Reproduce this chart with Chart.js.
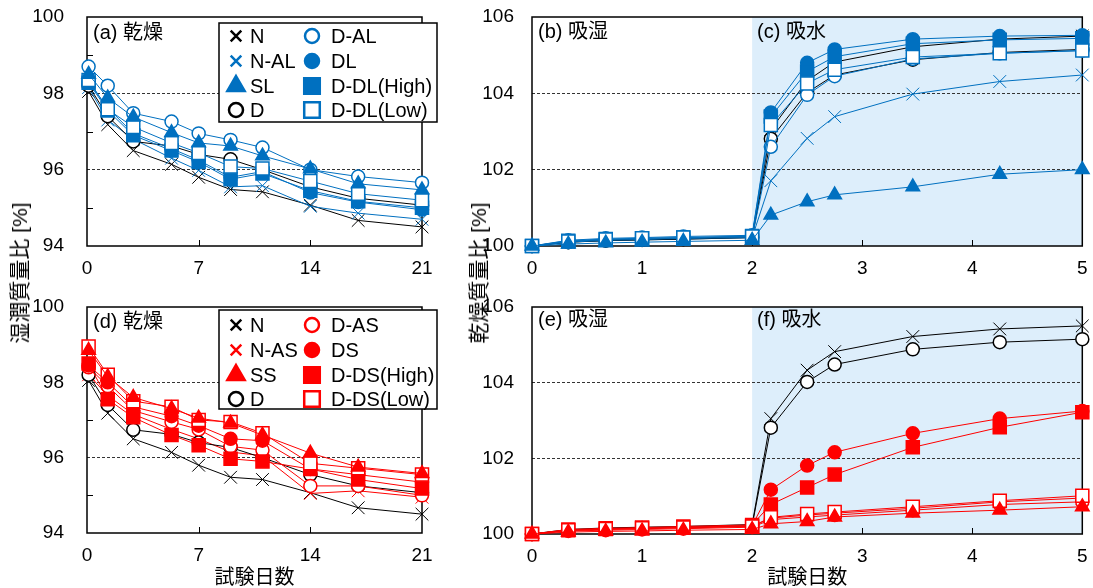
<!DOCTYPE html>
<html>
<head>
<meta charset="utf-8">
<script src="https://cdn.jsdelivr.net/npm/chart.js"></script>
<style>
  body { margin: 0; background: #fff; }
  #wrap { position: relative; width: 1093px; height: 588px; overflow: hidden;
          font-family: "Liberation Sans", "Noto Sans CJK JP", sans-serif; }
  #wrap canvas { position: absolute; }
  .ytitle { position: absolute; font-size: 21px; white-space: nowrap; color: #000;
            transform: translate(-50%, -50%) rotate(-90deg); }
</style>
</head>
<body>
<div id="wrap">
  <canvas id="chartA" style="left:0;top:0" width="445" height="290"></canvas>
  <canvas id="chartB" style="left:470px;top:0" width="623" height="290"></canvas>
  <canvas id="chartD" style="left:0;top:290px" width="445" height="298"></canvas>
  <canvas id="chartE" style="left:470px;top:290px" width="623" height="298"></canvas>
  <div class="ytitle" style="left:18px;top:273px">湿潤質量比 [%]</div>
  <div class="ytitle" style="left:477px;top:273px">乾燥質量比 [%]</div>
</div>
<script>
// ---- data ----
const dryDays = [0.1, 1.3, 2.9, 5.3, 7, 9, 11, 14, 17, 21];
const wetDays = [0, 0.33, 0.67, 1, 1.375, 2, 2.17, 2.5, 2.75, 3.46, 4.25, 5];
const wetStartDay = 2;

const dryXTicks = [0, 7, 14, 21];
const wetXTicks = [0, 1, 2, 3, 4, 5];
const dryYLabels = [94, 96, 98, 100];
const wetYLabels = [100, 102, 104, 106];
const dryMinorTicks = [95, 97, 99];

// drying (a, d)
const dryN       = [98.05, 97.18, 96.5, 96.14, 95.8, 95.48, 95.42, 95.07, 94.67, 94.5];
const dryD       = [98.2, 97.4, 96.74, 96.62, 96.4, 96.27, 96.0, 95.55, 95.25, 95.07];
const dryNAL     = [98.15, 97.3, 96.8, 96.3, 95.98, 95.55, 95.58, 95.04, 94.86, 94.7];
const drySL      = [98.5, 97.88, 97.38, 96.97, 96.7, 96.62, 96.36, 96.02, 95.63, 95.47];
const dryDAL     = [98.7, 98.2, 97.48, 97.26, 96.95, 96.78, 96.58, 96.0, 95.82, 95.66];
const dryDL      = [98.3, 97.62, 96.95, 96.55, 96.25, 95.8, 95.95, 95.4, 95.15, 94.95];
const dryDDLHigh = [98.28, 97.55, 96.9, 96.5, 96.2, 95.75, 95.9, 95.45, 95.17, 95.0];
const dryDDLLow  = [98.35, 97.58, 97.12, 96.7, 96.44, 96.08, 96.03, 95.7, 95.37, 95.2];
const dryNAS     = [98.2, 97.65, 97.15, 96.75, 96.5, 96.15, 96.05, 95.05, 95.12, 94.95];
const drySS      = [98.85, 98.15, 97.6, 97.3, 97.05, 96.92, 96.6, 96.12, 95.75, 95.58];
const dryDAS     = [98.4, 97.9, 97.25, 96.95, 96.75, 96.3, 96.2, 95.25, 95.25, 95.0];
const dryDS      = [98.45, 98.0, 97.35, 97.1, 96.85, 96.5, 96.45, 95.7, 95.55, 95.35];
const dryDDSHigh = [98.5, 97.55, 97.07, 96.6, 96.33, 95.97, 95.9, 95.7, 95.42, 95.18];
const dryDDSLow  = [98.95, 98.2, 97.5, 97.35, 97.0, 96.95, 96.65, 95.85, 95.72, 95.55];

// moisture / water absorption (b-c, e-f)
const wetN       = [100, 100.12, 100.16, 100.18, 100.2, 100.25, 103.05, 104.33, 104.82, 105.22, 105.42, 105.5];
const wetD       = [100, 100.1, 100.14, 100.16, 100.18, 100.22, 102.81, 104.02, 104.48, 104.88, 105.07, 105.15];
const wetNAL     = [100, 100.1, 100.14, 100.16, 100.18, 100.22, 101.71, 102.82, 103.39, 103.98, 104.31, 104.48];
const wetSL      = [100, 100.05, 100.08, 100.1, 100.12, 100.15, 100.81, 101.16, 101.34, 101.55, 101.88, 102.0];
const wetDAL     = [100, 100.1, 100.15, 100.17, 100.2, 100.22, 102.6, 103.96, 104.45, 104.9, 105.05, 105.12];
const wetDL      = [100, 100.15, 100.2, 100.22, 100.25, 100.28, 103.5, 104.8, 105.15, 105.42, 105.5, 105.52];
const wetDDLHigh = [100, 100.14, 100.18, 100.2, 100.22, 100.26, 103.39, 104.57, 104.96, 105.3, 105.4, 105.44];
const wetDDLLow  = [100, 100.12, 100.17, 100.2, 100.22, 100.25, 103.17, 104.26, 104.62, 104.95, 105.05, 105.12];
const wetNAS     = [100, 100.1, 100.12, 100.14, 100.16, 100.2, 100.42, 100.5, 100.55, 100.68, 100.85, 100.95];
const wetSS      = [100, 100.05, 100.07, 100.08, 100.1, 100.12, 100.27, 100.33, 100.45, 100.55, 100.63, 100.72];
const wetDAS     = [100, 100.08, 100.1, 100.12, 100.14, 100.18, 100.38, 100.45, 100.5, 100.63, 100.78, 100.85];
const wetDS      = [100, 100.1, 100.13, 100.15, 100.18, 100.22, 101.17, 101.81, 102.16, 102.66, 103.05, 103.25];
const wetDDSHigh = [100, 100.12, 100.15, 100.17, 100.2, 100.24, 100.78, 101.23, 101.57, 102.29, 102.82, 103.22];
const wetDDSLow  = [100, 100.1, 100.13, 100.15, 100.17, 100.2, 100.44, 100.53, 100.58, 100.72, 100.88, 101.01];

const legendBlue = ['N', 'N-AL', 'SL', 'D', 'D-AL', 'DL', 'D-DL(High)', 'D-DL(Low)'];
const legendRed  = ['N', 'N-AS', 'SS', 'D', 'D-AS', 'DS', 'D-DS(High)', 'D-DS(Low)'];
const xTitle = '試験日数';

// ---- styling ----
const FONT = '"Liberation Sans", "Noto Sans CJK JP", sans-serif';
const BLUE = '#0070C0';
const RED = '#FF0000';
const BLACK = '#000000';
Chart.defaults.font.family = FONT;
Chart.defaults.color = '#000';

const markerR = { crossRot: 9, circle: 6.5, rect: 9.2, triangle: 7.8 };
const legendR = { crossRot: 7.5, circle: 7, rect: 11, triangle: 10 };

function series(label, xs, ys, color, shape, open, order) {
    return {
        label: label,
        order: order,
        data: xs.map((x, i) => ({ x: x, y: ys[i] })),
        borderColor: color,
        borderWidth: 1,
        pointStyle: shape,
        pointRadius: markerR[shape],
        pointBackgroundColor: open ? '#fff' : color,
        pointBorderColor: color,
        pointBorderWidth: shape === 'crossRot' ? 1 : 1.5,
        tension: 0,
        fill: false,
        clip: false
    };
}

// shading, inward ticks, frame, panel labels and the boxed legend
const framePlugin = {
    id: 'frame',
    beforeDraw(chart, args, opts) {
        if (opts.shadeFrom == null) return;
        const { ctx, chartArea: a } = chart;
        const x0 = chart.scales.x.getPixelForValue(opts.shadeFrom);
        ctx.save();
        ctx.fillStyle = '#DDEEFB';
        ctx.fillRect(x0, a.top, a.right - x0, a.bottom - a.top);
        ctx.restore();
    },
    beforeDatasetsDraw(chart, args, opts) {
        const { ctx, chartArea: a } = chart;
        const xs = chart.scales.x, ys = chart.scales.y;
        ctx.save();
        ctx.strokeStyle = '#000';
        ctx.lineWidth = 1;
        ctx.beginPath();
        xs.ticks.forEach(t => {
            if (t.value <= xs.min || t.value >= xs.max) return;
            const px = Math.round(xs.getPixelForValue(t.value)) + 0.5;
            ctx.moveTo(px, a.bottom);
            ctx.lineTo(px, a.bottom - 6);
        });
        (opts.minorY || []).forEach(v => {
            const py = Math.round(ys.getPixelForValue(v)) + 0.5;
            ctx.moveTo(a.left, py);
            ctx.lineTo(a.left + 6, py);
        });
        ctx.stroke();
        ctx.lineWidth = 1.5;
        ctx.strokeRect(a.left, a.top, a.right - a.left, a.bottom - a.top);
        ctx.restore();
    },
    afterDraw(chart, args, opts) {
        const ctx = chart.ctx;
        ctx.save();
        ctx.font = '20px ' + FONT;
        ctx.fillStyle = '#000';
        ctx.textBaseline = 'middle';
        (opts.titles || []).forEach(t => ctx.fillText(t.text, t.x, t.y));

        const lg = opts.legend;
        if (lg) {
            ctx.fillStyle = '#fff';
            ctx.fillRect(lg.x, lg.y, lg.w, lg.h);
            ctx.strokeStyle = '#000';
            ctx.lineWidth = 1.5;
            ctx.strokeRect(lg.x, lg.y, lg.w, lg.h);
            lg.items.forEach((label, i) => {
                const ds = chart.data.datasets.find(d => d.label === label);
                const col = Math.floor(i / 4), row = i % 4;
                const mx = lg.markX[col], my = lg.rowY[row];
                ctx.fillStyle = ds.pointBackgroundColor;
                ctx.strokeStyle = ds.pointBorderColor;
                ctx.lineWidth = 2.5;
                Chart.helpers.drawPoint(ctx, {
                    pointStyle: ds.pointStyle, rotation: 0,
                    radius: legendR[ds.pointStyle], borderWidth: 2.5
                }, mx, my);
                ctx.fillStyle = '#000';
                ctx.fillText(label, lg.textX[col], my + 1);
            });
        }
        ctx.restore();
    }
};

function makePanel(id, cfg) {
    new Chart(document.getElementById(id), {
        type: 'line',
        data: { datasets: cfg.datasets },
        options: {
            responsive: false,
            animation: false,
            events: [],
            layout: { padding: cfg.padding },
            plugins: {
                legend: { display: false },
                tooltip: { enabled: false },
                frame: cfg.frame
            },
            scales: {
                x: {
                    type: 'linear',
                    min: cfg.xTicks[0],
                    max: cfg.xTicks[cfg.xTicks.length - 1],
                    ticks: {
                        stepSize: cfg.xTicks[1] - cfg.xTicks[0],
                        padding: 11, maxRotation: 0, autoSkip: false,
                        font: { size: 19 }, color: '#000'
                    },
                    grid: { display: false, drawTicks: false },
                    border: { display: false },
                    title: {
                        display: !!cfg.xTitle, text: cfg.xTitle || '',
                        font: { size: 20, lineHeight: 1 }, color: '#000',
                        padding: { top: 0, bottom: 0 }
                    },
                    afterFit: s => {
                        s.height = cfg.xHeight;
                        s.paddingLeft = 0;
                        s.paddingRight = 0;
                    }
                },
                y: {
                    min: cfg.yLabels[0],
                    max: cfg.yLabels[cfg.yLabels.length - 1],
                    ticks: {
                        stepSize: 1, autoSkip: false, padding: cfg.yPad,
                        font: { size: 19 }, color: '#000',
                        callback: v => cfg.yLabels.includes(v) ? String(v) : ''
                    },
                    grid: {
                        drawTicks: false, lineWidth: 1,
                        color: c => {
                            const v = c.tick ? c.tick.value : null;
                            const inner = cfg.yLabels.slice(1, -1);
                            return inner.includes(v) ? '#333' : 'rgba(0,0,0,0)';
                        }
                    },
                    border: { display: false, dash: [3, 2] },
                    afterFit: s => {
                        s.width = cfg.yWidth;
                        s.paddingTop = 0;
                        s.paddingBottom = 0;
                    }
                }
            }
        },
        plugins: [framePlugin]
    });
}

// (a) drying, blue group
makePanel('chartA', {
    datasets: [
        series('N', dryDays, dryN, BLACK, 'crossRot', false, 8),
        series('N-AL', dryDays, dryNAL, BLUE, 'crossRot', false, 7),
        series('SL', dryDays, drySL, BLUE, 'triangle', false, 1),
        series('D', dryDays, dryD, BLACK, 'circle', true, 6),
        series('D-AL', dryDays, dryDAL, BLUE, 'circle', true, 5),
        series('DL', dryDays, dryDL, BLUE, 'circle', false, 4),
        series('D-DL(High)', dryDays, dryDDLHigh, BLUE, 'rect', false, 3),
        series('D-DL(Low)', dryDays, dryDDLLow, BLUE, 'rect', true, 2)
    ],
    padding: { top: 17, right: 23, left: 0, bottom: 0 },
    xTicks: dryXTicks, yLabels: dryYLabels,
    yWidth: 87, yPad: 23, xHeight: 44,
    frame: {
        minorY: dryMinorTicks,
        titles: [{ text: '(a) 乾燥', x: 93, y: 33 }],
        legend: { x: 219, y: 23, w: 218, h: 99, items: legendBlue,
                  markX: [236, 312], textX: [250, 331], rowY: [36, 61, 86, 110] }
    }
});

// (b) moisture / (c) water, blue group
makePanel('chartB', {
    datasets: [
        series('N', wetDays, wetN, BLACK, 'crossRot', false, 8),
        series('N-AL', wetDays, wetNAL, BLUE, 'crossRot', false, 7),
        series('SL', wetDays, wetSL, BLUE, 'triangle', false, 1),
        series('D', wetDays, wetD, BLACK, 'circle', true, 6),
        series('D-AL', wetDays, wetDAL, BLUE, 'circle', true, 5),
        series('DL', wetDays, wetDL, BLUE, 'circle', false, 4),
        series('D-DL(High)', wetDays, wetDDLHigh, BLUE, 'rect', false, 3),
        series('D-DL(Low)', wetDays, wetDDLLow, BLUE, 'rect', true, 2)
    ],
    padding: { top: 17, right: 10, left: 0, bottom: 0 },
    xTicks: wetXTicks, yLabels: wetYLabels,
    yWidth: 62, yPad: 18, xHeight: 44,
    frame: {
        shadeFrom: wetStartDay,
        titles: [{ text: '(b) 吸湿', x: 68, y: 32 }, { text: '(c) 吸水', x: 287, y: 32 }]
    }
});

// (d) drying, red group
makePanel('chartD', {
    datasets: [
        series('N', dryDays, dryN, BLACK, 'crossRot', false, 8),
        series('N-AS', dryDays, dryNAS, RED, 'crossRot', false, 7),
        series('SS', dryDays, drySS, RED, 'triangle', false, 1),
        series('D', dryDays, dryD, BLACK, 'circle', true, 6),
        series('D-AS', dryDays, dryDAS, RED, 'circle', true, 5),
        series('DS', dryDays, dryDS, RED, 'circle', false, 4),
        series('D-DS(High)', dryDays, dryDDSHigh, RED, 'rect', false, 3),
        series('D-DS(Low)', dryDays, dryDDSLow, RED, 'rect', true, 2)
    ],
    padding: { top: 17, right: 23, left: 0, bottom: 0 },
    xTicks: dryXTicks, yLabels: dryYLabels, xTitle: xTitle,
    yWidth: 87, yPad: 23, xHeight: 55,
    frame: {
        minorY: dryMinorTicks,
        titles: [{ text: '(d) 乾燥', x: 93, y: 32 }],
        legend: { x: 219, y: 20, w: 218, h: 99, items: legendRed,
                  markX: [236, 312], textX: [250, 331], rowY: [35, 60, 85, 109] }
    }
});

// (e) moisture / (f) water, red group
makePanel('chartE', {
    datasets: [
        series('N', wetDays, wetN, BLACK, 'crossRot', false, 8),
        series('N-AS', wetDays, wetNAS, RED, 'crossRot', false, 7),
        series('SS', wetDays, wetSS, RED, 'triangle', false, 1),
        series('D', wetDays, wetD, BLACK, 'circle', true, 6),
        series('D-AS', wetDays, wetDAS, RED, 'circle', true, 5),
        series('DS', wetDays, wetDS, RED, 'circle', false, 4),
        series('D-DS(High)', wetDays, wetDDSHigh, RED, 'rect', false, 3),
        series('D-DS(Low)', wetDays, wetDDSLow, RED, 'rect', true, 2)
    ],
    padding: { top: 17, right: 10, left: 0, bottom: 0 },
    xTicks: wetXTicks, yLabels: wetYLabels, xTitle: xTitle,
    yWidth: 62, yPad: 18, xHeight: 54,
    frame: {
        shadeFrom: wetStartDay,
        titles: [{ text: '(e) 吸湿', x: 68, y: 30 }, { text: '(f) 吸水', x: 287, y: 30 }]
    }
});
</script>
</body>
</html>
